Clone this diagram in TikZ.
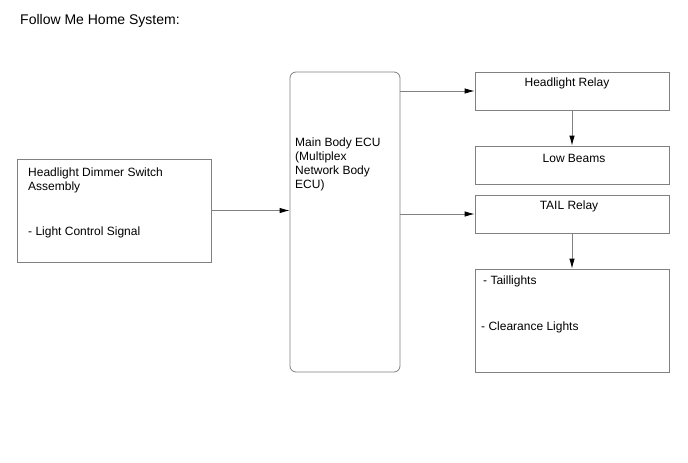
\documentclass[tikz,border=0pt]{standalone}
\usepackage{fontspec}
\setmainfont{Liberation Sans}
\usepackage{xcolor}
\usepackage{tikz}
\usetikzlibrary{positioning,arrows.meta,calc}

\definecolor{boxline}{HTML}{808080}

\begin{document}
\begin{tikzpicture}[
    x=1pt, y=-1pt,
    unitbox/.style={rectangle, draw=boxline, line width=0.8pt, inner sep=0pt},
    ecubox/.style={unitbox, rounded corners=6pt},
    txt/.style={font=\fontsize{12}{13.8}\selectfont, inner sep=0pt, align=left},
    flow/.style={-{Latex[length=10pt, width=5.5pt, color=black]}, line width=0.8pt, draw=boxline}
]
\useasboundingbox (0,0) rectangle (688,463);

% --- title ---
\node[txt, font=\fontsize{14}{16}\selectfont, anchor=base west] (title) at (20,24) {Follow Me Home System:};

% --- boxes ---
\node[unitbox, minimum width=194pt, minimum height=103pt] (dimmer) at (114,210.5) {};
\node[ecubox, minimum width=110pt, minimum height=300pt] (ecu) at (345,222) {};
\node[unitbox, minimum width=194pt, minimum height=38pt] (hlrelay) at (572,91) {};
\node[unitbox, minimum width=194pt, minimum height=38pt] (lowbeam) at (572,165) {};
\node[unitbox, minimum width=194pt, minimum height=38pt] (tailrelay) at (572,214) {};
\node[unitbox, minimum width=194pt, minimum height=103pt] (taillamp) at (572,320.5) {};

% --- texts inside the boxes ---
\node[txt, anchor=north west] (dimmertxt) at (28,167.5)
    {Headlight Dimmer Switch\\Assembly};
\node[txt, anchor=base west] (signaltxt) at (28,235) {- Light Control Signal};
\node[txt, anchor=north west] (ecutxt) at (295,138)
    {Main Body ECU\\(Multiplex\\Network Body\\ECU)};
\node[txt, anchor=base] (hlrelaytxt) at (567,86) {Headlight Relay};
\node[txt, anchor=base] (lowbeamtxt) at (574,162) {Low Beams};
\node[txt, anchor=base] (tailrelaytxt) at (569,209) {TAIL Relay};
\node[txt, anchor=base west] (taillighttxt) at (483,284) {- Taillights};
\node[txt, anchor=base west] (clearancetxt) at (481,330) {- Clearance Lights};

% --- connectors ---
\draw[flow] (dimmer.east) -- (ecu.west |- dimmer.east);
\draw[flow] (ecu.east |- hlrelay.west) -- (hlrelay.west);
\draw[flow] (ecu.east |- tailrelay.west) -- (tailrelay.west);
\draw[flow] (hlrelay.south) -- (lowbeam.north);
\draw[flow] (tailrelay.south) -- (taillamp.north);

\end{tikzpicture}
\end{document}
